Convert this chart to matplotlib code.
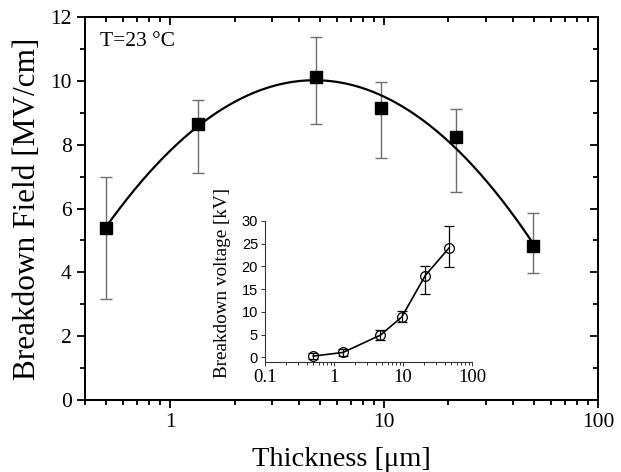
import numpy as np
import matplotlib
matplotlib.use("Agg")
import matplotlib.pyplot as plt
from matplotlib.ticker import LogLocator, FixedLocator, MultipleLocator, FixedFormatter, NullFormatter

# Main data: breakdown field vs thickness
thickness = [0.5, 1.35, 4.8, 9.7, 21.6, 49.6]
field = [5.38, 8.64, 10.13, 9.16, 8.23, 4.82]
field_hi = [7.0, 9.39, 11.36, 9.97, 9.11, 5.87]
field_lo = [3.16, 7.12, 8.66, 7.57, 6.52, 3.99]

# Inset data: breakdown voltage vs thickness
inset_thickness = [0.5, 1.35, 4.7, 9.6, 21.0, 46.0]
voltage = [0.3, 1.1, 4.9, 8.9, 18.0, 24.0]
voltage_hi = [0.9, 1.9, 6.0, 10.3, 20.0, 28.8]
voltage_lo = [-0.3, 0.4, 3.9, 7.7, 14.0, 19.9]

xticks_main = [1, 10, 100]
xticklabels_main = ["1", "10", "100"]
yticks_main = [0, 2, 4, 6, 8, 10, 12]
xticks_inset = [0.1, 1, 10, 100]
xticklabels_inset = ["0.1", "1", "10", "100"]
yticks_inset = [0, 5, 10, 15, 20, 25, 30]

serif = ["Liberation Serif", "DejaVu Serif"]
sans = ["Liberation Sans", "DejaVu Sans"]

fig = plt.figure(figsize=(6.21, 4.72), dpi=100)
ax = fig.add_axes([85/621, 1-400/472, (598-85)/621, (400-17)/472])

x = np.array(thickness)
y = np.array(field)
yerr = [y - np.array(field_lo), np.array(field_hi) - y]
ax.errorbar(x, y, yerr=yerr, fmt="none", ecolor="#6e6e6e", elinewidth=1.0,
            capsize=4.3, capthick=1.0, zorder=2)

# polynomial fit in log(thickness)
coef = np.polyfit(np.log10(x), y, 3)
xs = np.logspace(np.log10(x[0]), np.log10(x[-1]), 300)
ax.plot(xs, np.polyval(coef, np.log10(xs)), color="black", lw=1.6, zorder=3)
ax.plot(x, y, "s", color="black", ms=9, zorder=4)

ax.set_xscale("log")
ax.set_xlim(0.4, 100)
ax.set_ylim(0, 12)
ax.xaxis.set_major_locator(FixedLocator(xticks_main))
ax.xaxis.set_major_formatter(FixedFormatter(xticklabels_main))
ax.xaxis.set_minor_locator(LogLocator(base=10, subs=np.arange(2, 10), numticks=20))
ax.xaxis.set_minor_formatter(NullFormatter())
ax.set_yticks(yticks_main)
ax.yaxis.set_minor_locator(MultipleLocator(1))

for s in ax.spines.values():
    s.set_linewidth(1.4)
ax.tick_params(which="both", left=True, bottom=True, direction="out", width=1.3)
ax.tick_params(which="major", length=6)
ax.tick_params(which="minor", length=3.5)
ax.tick_params(labelsize=15.5)
for lab in ax.get_xticklabels() + ax.get_yticklabels():
    lab.set_family(serif)

# top/right inward ticks
axt = ax.twiny()
axt.set_xscale("log")
axt.set_xlim(ax.get_xlim())
axt.xaxis.set_major_locator(FixedLocator(xticks_main))
axt.xaxis.set_minor_locator(LogLocator(base=10, subs=np.arange(2, 10), numticks=20))
axt.tick_params(which="both", direction="in", width=1.3, labeltop=False)
axt.tick_params(which="major", length=6)
axt.tick_params(which="minor", length=3.5)
axr = ax.twinx()
axr.set_ylim(ax.get_ylim())
axr.set_yticks(yticks_main)
axr.yaxis.set_minor_locator(MultipleLocator(1))
axr.tick_params(which="both", direction="in", width=1.3, labelright=False)
axr.tick_params(which="major", length=6)
axr.tick_params(which="minor", length=3.5)
for a in (axt, axr):
    for s in a.spines.values():
        s.set_linewidth(1.4)

ax.set_xlabel("Thickness [μm]", fontsize=20.5, family=serif, labelpad=11)
ax.set_ylabel("Breakdown Field [MV/cm]", fontsize=22.5, family=serif, labelpad=6)
ax.text(0.03, 0.935, "T=23 °C", transform=ax.transAxes, fontsize=15.5,
        family=serif, ha="left", va="center")

# inset
ins = fig.add_axes([265/621, 1-362/472, (472-265)/621, (362-221)/472])
xi = np.array(inset_thickness)
yi = np.array(voltage)
yierr = [yi - np.array(voltage_lo), np.array(voltage_hi) - yi]
ins.errorbar(xi, yi, yerr=yierr, fmt="none", ecolor="black", elinewidth=0.9,
             capsize=3.5, capthick=0.9, zorder=2)
ins.plot(xi, yi, "-", color="black", lw=1.2, zorder=3)
ins.plot(xi, yi, "o", ms=7, mfc="none", mec="black", mew=0.9, zorder=4)
ins.set_xscale("log")
ins.set_xlim(0.1, 100)
ins.set_ylim(-1, 30)
ins.xaxis.set_major_locator(FixedLocator(xticks_inset))
ins.xaxis.set_major_formatter(FixedFormatter(xticklabels_inset))
ins.xaxis.set_minor_locator(LogLocator(base=10, subs=np.arange(2, 10), numticks=20))
ins.xaxis.set_minor_formatter(NullFormatter())
ins.set_yticks(yticks_inset)
ins.spines["top"].set_visible(False)
ins.spines["right"].set_visible(False)
ins.patch.set_alpha(0)
for s in ("left", "bottom"):
    ins.spines[s].set_linewidth(0.8)
    ins.spines[s].set_color("#333333")
ins.tick_params(which="both", direction="out", width=0.7, colors="#333333", pad=2)
ins.tick_params(which="major", length=3)
ins.tick_params(which="minor", length=2)
ins.tick_params(axis="x", labelsize=13.5, labelcolor="black")
ins.tick_params(axis="y", labelsize=10.5, labelcolor="black")
for lab in ins.get_xticklabels():
    lab.set_family(serif)
for lab in ins.get_yticklabels():
    lab.set_family(sans)
ins.set_ylabel("Breakdown voltage [kV]", fontsize=13.8, family=serif)
ins.yaxis.set_label_coords(-0.165, 0.56)

fig.savefig("out.png", dpi=100)
